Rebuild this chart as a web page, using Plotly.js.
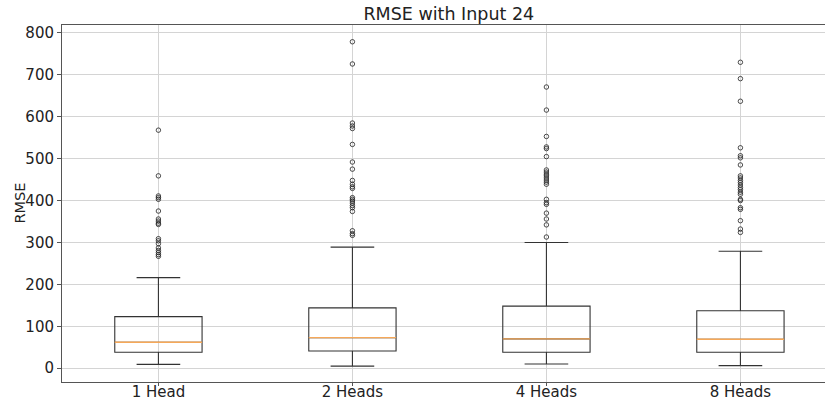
<!DOCTYPE html>
<html>
<head>
<meta charset="utf-8">
<script src="https://cdn.plot.ly/plotly-3.0.1.min.js"></script>
<style>
  html, body { margin: 0; padding: 0; background: #fff; }
  #chart { width: 825px; height: 401px; }
</style>
</head>
<body>
<div id="chart"></div>
<script>
// RMSE distribution per number of attention heads (input length 24)
const categories = ['1 Head', '2 Heads', '4 Heads', '8 Heads'];
const lowerWhisker = [9, 5, 10, 6];
const q1 = [38, 41, 38, 38];
const median = [62, 73, 70, 69];
const q3 = [123, 144, 148, 137];
const upperWhisker = [216, 289, 300, 279];

const outliers1 = [568, 459, 411, 407, 403, 375, 356, 351, 346, 343, 309, 304, 297, 287, 281, 276, 271, 267];
const outliers2 = [779, 726, 585, 578, 572, 534, 492, 475, 448, 439, 433, 429, 407, 403, 399, 394, 388, 383, 374, 328, 321, 317];
const outliers4 = [671, 616, 553, 528, 524, 505, 473, 468, 463, 459, 454, 449, 444, 439, 403, 395, 391, 370, 356, 342, 313];
const outliers8 = [730, 691, 637, 526, 507, 502, 485, 459, 454, 448, 443, 437, 431, 426, 420, 415, 403, 400, 383, 379, 352, 332, 324];
const outlierGroups = [outliers1, outliers2, outliers4, outliers8];

const positions = categories.map((_, i) => i + 1);
const boxWidth = 0.45;

// boxes and whiskers from the summary statistics
const boxTrace = {
  type: 'box',
  x: positions,
  q1: q1,
  median: median,
  q3: q3,
  lowerfence: lowerWhisker,
  upperfence: upperWhisker,
  width: boxWidth,
  whiskerwidth: 0.5,
  boxpoints: false,
  fillcolor: 'rgba(0,0,0,0)',
  line: { color: '#333333', width: 1.1 },
  hoverinfo: 'skip',
  showlegend: false
};

// orange median segments spanning each box
const medX = [], medY = [];
positions.forEach((p, i) => {
  medX.push(p - boxWidth / 2, p + boxWidth / 2, null);
  medY.push(median[i], median[i], null);
});
const medianTrace = {
  type: 'scatter',
  mode: 'lines',
  x: medX,
  y: medY,
  line: { color: '#f6a858', width: 1.4 },
  hoverinfo: 'skip',
  showlegend: false
};

// fliers as open circles
const flierX = [], flierY = [];
outlierGroups.forEach((grp, i) => {
  grp.forEach(v => { flierX.push(positions[i]); flierY.push(v); });
});
const flierTrace = {
  type: 'scatter',
  mode: 'markers',
  x: flierX,
  y: flierY,
  marker: {
    symbol: 'circle-open',
    size: 4.5,
    color: '#222222',
    line: { width: 0.8, color: '#222222' }
  },
  hoverinfo: 'y',
  showlegend: false
};

const layout = {
  width: 825,
  height: 401,
  margin: { l: 62, r: 0, t: 25, b: 19, pad: 0 },
  paper_bgcolor: '#ffffff',
  plot_bgcolor: '#ffffff',
  font: { family: 'DejaVu Sans, sans-serif', size: 15, color: '#222222' },
  title: {
    text: 'RMSE with Input 24',
    font: { family: 'DejaVu Sans, sans-serif', size: 17.5, color: '#222222' },
    x: 0.507,
    xref: 'paper',
    xanchor: 'center',
    y: 0.965,
    yref: 'container',
    yanchor: 'middle'
  },
  xaxis: {
    range: [0.503, 4.436],
    tickvals: positions,
    ticktext: categories,
    showgrid: true,
    gridcolor: '#d4d4d4',
    gridwidth: 1,
    zeroline: false,
    showline: true,
    linecolor: '#555555',
    linewidth: 1,
    mirror: true,
    ticks: 'outside',
    ticklen: 3,
    tickcolor: '#555555',
    tickfont: { size: 15, color: '#222222' },
    ticklabelstandoff: -7,
    automargin: false,
    fixedrange: true
  },
  yaxis: {
    range: [-33, 819],
    tickvals: [0, 100, 200, 300, 400, 500, 600, 700, 800],
    showgrid: true,
    gridcolor: '#d4d4d4',
    gridwidth: 1,
    zeroline: false,
    showline: true,
    linecolor: '#555555',
    linewidth: 1,
    ticks: 'outside',
    ticklen: 4,
    tickcolor: '#555555',
    tickfont: { size: 15, color: '#222222' },
    automargin: false,
    fixedrange: true
  },
  // y-axis caption placed as a rotated annotation beside the tick labels
  annotations: [{
    text: 'RMSE',
    xref: 'paper',
    yref: 'paper',
    x: 0,
    y: 0.5,
    xanchor: 'center',
    yanchor: 'middle',
    xshift: -43,
    textangle: -90,
    showarrow: false,
    font: { size: 14.5, color: '#222222' }
  }],
  showlegend: false
};

Plotly.newPlot('chart', [boxTrace, medianTrace, flierTrace], layout, { displayModeBar: false, staticPlot: true });
</script>
</body>
</html>
